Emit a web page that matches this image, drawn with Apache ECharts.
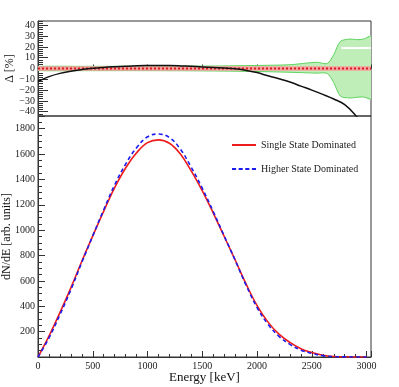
<!DOCTYPE html>
<html>
<head>
<meta charset="utf-8">
<title>dN/dE</title>
<script src="https://cdn.jsdelivr.net/npm/echarts@6/dist/echarts.min.js"></script>
<style>html,body{margin:0;padding:0;background:#fff;}</style>
</head>
<body>
<div id="main" style="width:399px;height:387px;"></div>
<script type="text/javascript">
// spectra, every 100 keV
var energy = [0, 100, 200, 300, 400, 500, 600, 700, 800, 900, 1000, 1100, 1200, 1300, 1400, 1500,
  1600, 1700, 1800, 1900, 2000, 2100, 2200, 2300, 2400, 2500, 2600, 2700, 2800, 2900, 3000];
var singleState = [0, 165, 350, 545, 755, 955, 1150, 1335, 1490, 1610, 1690, 1712, 1685, 1600, 1465, 1310,
  1135, 950, 765, 575, 405, 275, 180, 115, 65, 35, 14, 4, 1, 0, 0];
var higherState = [0, 150, 333, 530, 746, 955, 1161, 1357, 1521, 1650, 1736, 1758, 1730, 1638, 1494, 1330,
  1146, 954, 763, 565, 390, 257, 163, 100, 54, 28, 11, 3, 1, 0, 0];

// ratio panel
var deltaEnergy = [0, 100, 200, 300, 400, 500, 600, 700, 800, 900, 1000, 1100, 1200, 1300, 1400, 1500,
  1600, 1700, 1800, 1900, 2000, 2100, 2200, 2300, 2400, 2500, 2600, 2700, 2800, 2900, 2950];
var delta = [-12, -7.5, -4.5, -2.5, -1, 0.2, 1, 1.6, 2.1, 2.5, 2.7, 2.8, 2.7, 2.4, 2.0, 1.5,
  1.0, 0.4, -0.3, -1.8, -3.8, -6.8, -9.5, -12.5, -16.3, -20, -24, -28.3, -33.5, -43.5, -50];

var bandEnergy = [0, 500, 1000, 1500, 2000, 2300, 2450, 2550, 2640, 2700, 2760, 2850, 2910, 2970, 3040];
var bandUpper = [2, 2, 2, 2.2, 2.8, 3.5, 5, 5.8, 4.6, 12.8, 25, 27.3, 26.7, 27.3, 30.4];
var bandLower = [-2, -2, -2, -2.2, -2.8, -3.5, -4, -4.3, -4.6, -13, -25.5, -27.3, -26.7, -26.4, -28.5];

var refEnergy = [0, 3040];
var refUpper = [2, 2];
var refLower = [-2, -2];
var gapEnergy = [2770, 3040];
var gapValue = [19, 19];

var deltaTicks = [-40, -30, -20, -10, 0, 10, 20, 30, 40];
var deltaMinor = [-44, -42, -38, -36, -34, -32, -28, -26, -24, -22, -18, -16, -14, -12, -8, -6, -4, -2,
  2, 4, 6, 8, 12, 14, 16, 18, 22, 24, 26, 28, 32, 34, 36, 38, 42, 44];

function pairs(xs, ys) {
  return xs.map(function (x, i) { return [x, ys[i]]; });
}

// filled band between two edges, drawn in data coordinates
function bandRenderer(xs, hi, lo, fill, edge, smooth) {
  return function (params, api) {
    var top = xs.map(function (x, i) { return api.coord([x, hi[i]]); });
    var bot = xs.map(function (x, i) { return api.coord([x, lo[i]]); });
    var children = [{
      type: 'polygon',
      shape: { points: top.concat(bot.slice().reverse()), smooth: smooth },
      style: { fill: fill }
    }];
    if (edge) {
      children.push({ type: 'polyline', shape: { points: top, smooth: smooth }, style: { stroke: edge, lineWidth: 1, fill: null } });
      children.push({ type: 'polyline', shape: { points: bot, smooth: smooth }, style: { stroke: edge, lineWidth: 1, fill: null } });
    }
    return {
      type: 'group',
      clipPath: { type: 'rect', shape: { x: params.coordSys.x, y: params.coordSys.y, width: params.coordSys.width, height: params.coordSys.height } },
      children: children
    };
  };
}

var FONT = 'Liberation Serif';
var AX = '#333';
var plain = function (v) { return String(v).replace('-', '\u2212'); };

var myChart = echarts.init(document.getElementById('main'));
var option = {
  animation: false,
  backgroundColor: '#fff',
  textStyle: { fontFamily: FONT },
  grid: [
    { left: 38, right: 28, top: 21, height: 95, outerBoundsMode: 'none', show: true, borderColor: AX, borderWidth: 1, backgroundColor: 'transparent' },
    { left: 38, right: 28, top: 116, height: 241, outerBoundsMode: 'none', show: true, borderColor: AX, borderWidth: 1, backgroundColor: 'transparent' }
  ],
  legend: {
    left: 227, top: 135, orient: 'vertical', itemGap: 14, itemWidth: 24, itemHeight: 14,
    textStyle: { fontFamily: FONT, fontSize: 10, color: '#222' },
    data: [
      { name: 'Single State Dominated', icon: 'path://M0,0h24v2h-24z' },
      { name: 'Higher State Dominated', icon: 'path://M0,0h4v2h-4z M6.5,0h4v2h-4z M13,0h4v2h-4z M19.5,0h4v2h-4z' }
    ]
  },
  xAxis: [
    {
      type: 'value', gridIndex: 0, min: 0, max: 3040, interval: 500,
      axisLine: { lineStyle: { color: AX } },
      axisTick: { inside: true, length: 4, lineStyle: { color: AX } },
      minorTick: { show: true, splitNumber: 5, length: 2, lineStyle: { color: AX } },
      axisLabel: { show: false },
      splitLine: { show: false }
    },
    {
      type: 'value', gridIndex: 1, min: 0, max: 3040, interval: 500,
      name: 'Energy [keV]', nameLocation: 'middle', nameGap: 14, nameMoveOverlap: false,
      nameTextStyle: { fontFamily: FONT, fontSize: 13, color: '#111' },
      axisLine: { lineStyle: { color: AX } },
      axisTick: { inside: true, length: 6, lineStyle: { color: AX } },
      minorTick: { show: true, splitNumber: 5, length: 3, lineStyle: { color: AX } },
      axisLabel: { fontFamily: FONT, fontSize: 10, color: '#222', margin: 4, showMaxLabel: false, formatter: plain },
      splitLine: { show: false }
    }
  ],
  yAxis: [
    {
      type: 'value', gridIndex: 0, min: -44, max: 44, position: 'left',
      name: 'Δ [%]', nameLocation: 'middle', nameGap: 22, nameRotate: 90, nameMoveOverlap: false,
      nameTextStyle: { fontFamily: FONT, fontSize: 12, color: '#111' },
      axisLine: { lineStyle: { color: AX } },
      axisTick: { inside: true, length: 10, customValues: deltaTicks, lineStyle: { color: AX } },
      axisLabel: { customValues: deltaTicks, fontFamily: FONT, fontSize: 10, color: '#222', margin: 3, formatter: plain },
      splitLine: { show: false }
    },
    {
      type: 'value', gridIndex: 1, min: 0, max: 1900, interval: 200, position: 'left',
      name: 'dN/dE [arb. units]', nameLocation: 'middle', nameGap: 25, nameRotate: 90, nameMoveOverlap: false,
      nameTextStyle: { fontFamily: FONT, fontSize: 12, color: '#111' },
      axisLine: { lineStyle: { color: AX } },
      axisTick: { inside: true, length: 7, lineStyle: { color: AX } },
      minorTick: { show: true, splitNumber: 4, length: 4, lineStyle: { color: AX } },
      axisLabel: { fontFamily: FONT, fontSize: 10, color: '#222', margin: 3, showMinLabel: false, showMaxLabel: false, formatter: plain },
      splitLine: { show: false }
    },
    {
      type: 'value', gridIndex: 0, min: -44, max: 44, position: 'left', offset: 0,
      axisLine: { show: false },
      axisTick: { inside: true, length: 5, customValues: deltaMinor, lineStyle: { color: AX } },
      axisLabel: { show: false },
      splitLine: { show: false }
    }
  ],
  series: [
    {
      type: 'custom', xAxisIndex: 0, yAxisIndex: 0, z: 1, silent: true,
      renderItem: bandRenderer(bandEnergy, bandUpper, bandLower, '#bfeeb8', '#5fd35f', 0.3),
      data: [0]
    },
    {
      type: 'line', xAxisIndex: 0, yAxisIndex: 0,
      data: pairs(gapEnergy, gapValue), symbol: 'none', z: 2,
      lineStyle: { color: '#ffffff', width: 2 }
    },
    {
      type: 'custom', xAxisIndex: 0, yAxisIndex: 0, z: 3, silent: true,
      renderItem: bandRenderer(refEnergy, refUpper, refLower, '#f6a0a0', null, 0),
      data: [0]
    },
    {
      type: 'line', xAxisIndex: 0, yAxisIndex: 0,
      data: [[0, 0], [3040, 0]], symbol: 'none', z: 4,
      lineStyle: { color: '#d42020', width: 2, type: [2, 2] }
    },
    {
      type: 'line', xAxisIndex: 0, yAxisIndex: 0,
      data: pairs(deltaEnergy, delta), symbol: 'none', smooth: 0.4, z: 5, clip: true,
      lineStyle: { color: '#111', width: 1.5 }
    },
    {
      name: 'Single State Dominated', type: 'line', xAxisIndex: 1, yAxisIndex: 1,
      data: pairs(energy, singleState), symbol: 'none', smooth: 0.4, z: 5,
      itemStyle: { color: '#ee1c1c' },
      lineStyle: { color: '#ee1c1c', width: 1.6 }
    },
    {
      name: 'Higher State Dominated', type: 'line', xAxisIndex: 1, yAxisIndex: 1,
      data: pairs(energy, higherState), symbol: 'none', smooth: 0.4, z: 6,
      itemStyle: { color: '#1c1cee' },
      lineStyle: { color: '#1c1cee', width: 1.6, type: [4, 3] }
    }
  ]
};
myChart.setOption(option);
</script>
</body>
</html>
